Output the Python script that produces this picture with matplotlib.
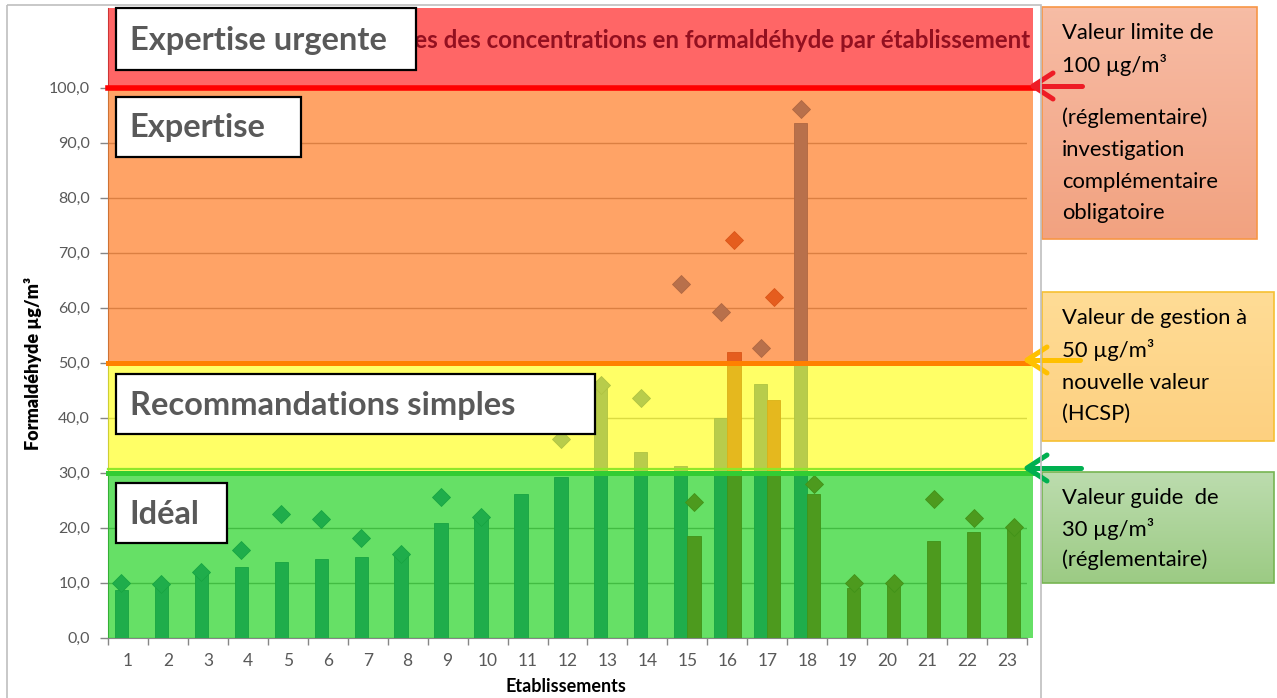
import numpy as np
import matplotlib
matplotlib.use('Agg')
import matplotlib.pyplot as plt
from matplotlib.patches import Rectangle
from matplotlib.colors import to_rgb
from matplotlib.ticker import FuncFormatter

plt.rcParams['font.family'] = ['Lato', 'DejaVu Sans']

# ---------------------------------------------------------------------------
# Données (µg/m³)
# ---------------------------------------------------------------------------
nan = np.nan
etablissements = [str(i) for i in range(1, 24)]

# campagne 1 : moyenne (barre) et maximum (losange)
moy_1 = [8.7, 9.6, 11.5, 12.9, 13.8, 14.4, 14.7, 15.2, 20.9, 21.6, 26.1, 29.2,
         45.4, 33.8, 31.2, 39.9, 46.1, 93.6, nan, nan, nan, nan, nan]
max_1 = [10.0, 9.8, 12.0, 15.9, 22.5, 21.6, 18.1, 15.3, 25.5, 22.0, nan, 36.1,
         45.9, 43.6, 64.4, 59.3, 52.7, 96.1, nan, nan, nan, nan, nan]

# campagne 2 : moyenne (barre) et maximum (losange)
moy_2 = [nan, nan, nan, nan, nan, nan, nan, nan, nan, nan, nan, nan, nan, nan,
         18.5, 52.0, 43.3, 26.1, 9.0, 9.5, 17.5, 19.2, 19.9]
max_2 = [nan, nan, nan, nan, nan, nan, nan, nan, nan, nan, nan, nan, nan, nan,
         24.7, 72.3, 61.9, 27.9, 9.9, 9.9, 25.2, 21.7, 20.2]

# zones de gestion
zone_bornes = [0, 30, 50, 100, 114.5]
zone_couleurs = ['#00cc00', '#ffff00', '#ff6600', '#ff0000']
zone_labels = ['Idéal', 'Recommandations simples', 'Expertise', 'Expertise urgente']

seuils = [30, 50, 100]
seuil_couleurs = ['#33cc33', '#ff8000', '#ff0000']

titre = "Moyennes des concentrations en formaldéhyde par établissement"

# ---------------------------------------------------------------------------
# Figure
# ---------------------------------------------------------------------------
W, H = 1277, 698
fig = plt.figure(figsize=(W / 100, H / 100), dpi=100)
fig.patch.set_facecolor('white')


def px_box(x0, y0, x1, y1):
    return [x0 / W, 1 - y1 / H, (x1 - x0) / W, (y1 - y0) / H]


ax = fig.add_axes(px_box(108, 8, 1027, 637.7))
x = np.arange(1, len(etablissements) + 1)
w = 0.33

ax.bar(x - w / 2, moy_1, w, color='#4f81bd', edgecolor='#3a6aa3', lw=0.6, zorder=2)
ax.bar(x + w / 2, moy_2, w, color='#c0504d', edgecolor='#a23d3a', lw=0.6, zorder=2)
ax.plot(x - w / 2, max_1, 'D', ms=9.5, color='#4f81bd', mec='#3a6aa3', mew=0.6, zorder=3)
ax.plot(x + w / 2, max_2, 'D', ms=9.5, color='#c0504d', mec='#a23d3a', mew=0.6, zorder=3)

# bandes colorées semi-transparentes posées sur le graphique
for lo, hi, c in zip(zone_bornes[:-1], zone_bornes[1:], zone_couleurs):
    ax.axhspan(lo, hi, xmin=0, xmax=1.007, color=c, alpha=0.6, lw=0,
               zorder=4, clip_on=False)

for s, c in zip(seuils, seuil_couleurs):
    ax.axhline(s, xmax=1.007, color=c, lw=4.0 if s == 100 else 3.6,
               zorder=5, clip_on=False)
# liseré clair au-dessus du seuil 30
ax.axhline(seuils[0] + 0.6, xmax=1.007, color='#8ee82a', lw=1.6, zorder=5, clip_on=False)

ax.set_xlim(0.5, len(etablissements) + 0.5)
ax.set_ylim(zone_bornes[0], zone_bornes[-1])
ax.set_yticks(np.arange(0, 101, 10))
ax.yaxis.set_major_formatter(FuncFormatter(lambda v, _: f"{v:.1f}".replace('.', ',')))
ax.set_xticks(np.arange(0.5, len(etablissements) + 1, 1))
ax.set_xticklabels([])
ax.set_xticks(x, minor=True)
ax.set_xticklabels(etablissements, minor=True)

ax.tick_params(axis='x', which='major', length=5, width=1, color='#868686')
ax.tick_params(axis='x', which='minor', length=0, pad=11, labelsize=12.5,
               labelcolor='#595959')
ax.tick_params(axis='y', length=6, width=1, color='#868686', pad=7,
               labelsize=11.5, labelcolor='#595959')

ax.grid(axis='y', color='#a6a6a6', lw=1)
ax.set_axisbelow(True)
for side in ['top', 'right']:
    ax.spines[side].set_visible(False)
for side in ['left', 'bottom']:
    ax.spines[side].set_color('#868686')

fig.text(33 / W, 1 - 364 / H, "Formaldéhyde µg/m³", rotation=90, ha='center',
         va='center', fontsize=13, fontweight='heavy', color='black')
fig.text(566 / W, 1 - 687 / H, "Etablissements", ha='center', va='center',
         fontsize=13, fontweight='bold', color='black')

# ---------------------------------------------------------------------------
# Annotations (coordonnées en pixels)
# ---------------------------------------------------------------------------
ov = fig.add_axes([0, 0, 1, 1], zorder=10)

# titre (en partie caché par l'encadré "Expertise urgente")
t = ov.text(1030, 40, titre, ha='right', va='center', fontsize=17.4,
            fontweight='bold', color='#931020', zorder=1)
t.set_clip_path(Rectangle((300, 8), 733, 62, transform=ov.transData))

# encadrés des zones
zone_boxes = {
    'Expertise urgente': (115.5, 8.3, 416, 70),
    'Expertise': (115.5, 96.7, 301, 157.3),
    'Recommandations simples': (115.5, 374.3, 595, 434.3),
    'Idéal': (115.5, 483.3, 227, 542.7),
}
for lab in zone_labels:
    x0, y0, x1, y1 = zone_boxes[lab]
    ov.add_patch(Rectangle((x0, y0), x1 - x0, y1 - y0, facecolor='white',
                           edgecolor='black', lw=1.6, zorder=3))
    ov.text(x0 + 14, (y0 + y1) / 2 + 1, lab, ha='left', va='center',
            fontsize=23.5, fontweight='bold', color='#595959', zorder=4)


def gradient_box(x0, y0, x1, y1, c_top, c_bot, edge):
    g = np.linspace(0, 1, 64)[:, None]
    img = (1 - g) * np.array(to_rgb(c_top)) + g * np.array(to_rgb(c_bot))
    ov.imshow(img[:, None, :], extent=(x0, x1, y1, y0), aspect='auto', zorder=2)
    ov.add_patch(Rectangle((x0, y0), x1 - x0, y1 - y0, fill=False,
                           edgecolor=edge, lw=1.2, zorder=3))


gradient_box(1042, 7, 1257, 239, '#f7bca5', '#f2a280', '#f79646')
gradient_box(1042, 292, 1274, 441, '#ffdc96', '#fdd080', '#f6c032')
gradient_box(1042, 472, 1274, 583, '#bcdcae', '#9ccb84', '#77b552')

notes = [
    ("Valeur limite de", 33), ("100 µg/m³", 65), ("(réglementaire)", 118),
    ("investigation", 150), ("complémentaire", 182), ("obligatoire", 213),
    ("Valeur de gestion à", 318), ("50 µg/m³", 350), ("nouvelle valeur", 383),
    ("(HCSP)", 414),
    ("Valeur guide  de", 498), ("30 µg/m³", 529), ("(réglementaire)", 560),
]
for txt, yy in notes:
    ov.text(1062, yy, txt, ha='left', va='center', fontsize=15.8, color='black', zorder=4)

# flèches vers les seuils
arrows = [
    ('#ee1c25', 1033, 86, 1082),
    ('#ffc000', 1027, 360, 1080),
    ('#00b050', 1027, 468, 1081),
]
for c, tip, yy, end in arrows:
    kw = dict(color=c, lw=3.6, solid_capstyle='round', zorder=5)
    ov.plot([tip, end], [yy, yy], **kw)
    ov.plot([tip + 20, tip, tip + 20], [yy - 13, yy, yy + 13], **kw)

# cadre du graphique
ov.add_patch(Rectangle((7, 5), 1034, 700, fill=False, edgecolor='#bfbfbf',
                       lw=1.2, zorder=6))

ov.set_xlim(0, W)
ov.set_ylim(H, 0)
ov.axis('off')

fig.savefig('out.png', dpi=100)
